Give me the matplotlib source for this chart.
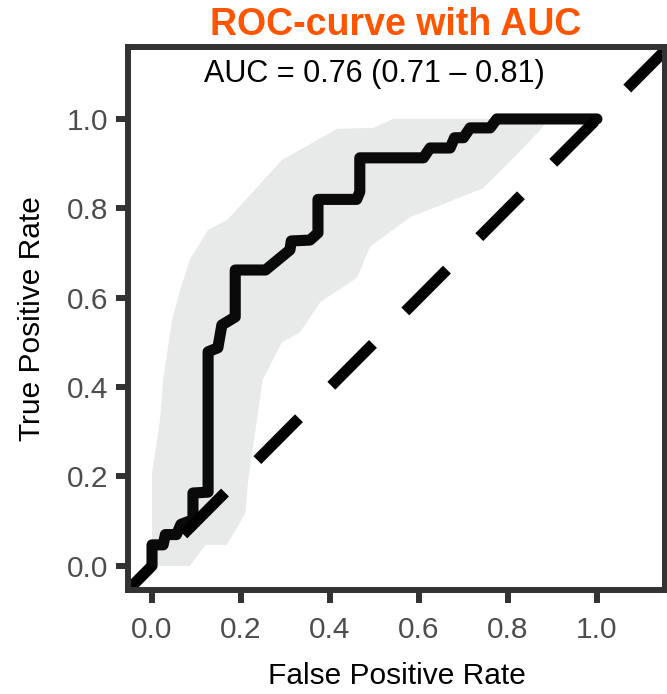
import numpy as np
import matplotlib.pyplot as plt
from matplotlib import font_manager

# ROC curve (FPR, TPR)
roc_fpr = [0.0, 0.0, 0.025, 0.03, 0.055, 0.065, 0.092, 0.092, 0.126, 0.126, 0.148, 0.157,
           0.187, 0.187, 0.255, 0.31, 0.313, 0.355, 0.373, 0.373, 0.46, 0.467, 0.467,
           0.61, 0.625, 0.67, 0.68, 0.70, 0.715, 0.76, 0.775, 1.0]
roc_tpr = [0.0, 0.047, 0.047, 0.07, 0.07, 0.093, 0.103, 0.163, 0.165, 0.479, 0.488, 0.539,
           0.557, 0.662, 0.662, 0.707, 0.727, 0.729, 0.745, 0.82, 0.82, 0.837, 0.913,
           0.913, 0.935, 0.935, 0.958, 0.958, 0.98, 0.98, 1.0, 1.0]

# confidence band edges
upper_fpr = [0.0, 0.0, 0.018, 0.025, 0.045, 0.063, 0.085, 0.126, 0.169, 0.292, 0.416, 0.497, 0.541, 0.885]
upper_tpr = [0.0, 0.208, 0.327, 0.416, 0.55, 0.617, 0.685, 0.752, 0.774, 0.908, 0.978, 0.98, 1.0, 1.0]
lower_fpr = [0.0, 0.085, 0.12, 0.168, 0.21, 0.216, 0.249, 0.292, 0.333, 0.378, 0.461, 0.49,
             0.58, 0.744, 0.80, 0.879, 0.885]
lower_tpr = [0.0, 0.0, 0.047, 0.047, 0.118, 0.19, 0.417, 0.5, 0.523, 0.59, 0.645, 0.714,
             0.78, 0.845, 0.90, 0.982, 1.0]

ticks = [0.0, 0.2, 0.4, 0.6, 0.8, 1.0]
tick_labels = ['0.0', '0.2', '0.4', '0.6', '0.8', '1.0']
auc_label = 'AUC = 0.76 (0.71 \u2013 0.81)'

names = {f.name for f in font_manager.fontManager.ttflist}
base_font = 'Liberation Sans' if 'Liberation Sans' in names else 'DejaVu Sans'
plt.rcParams['font.family'] = [base_font, 'DejaVu Sans']
plt.rcParams['lines.scale_dashes'] = False

fig = plt.figure(figsize=(6.67, 6.94), dpi=100)
ax = fig.add_axes([128 / 667, 1 - 590 / 694, (665 - 128) / 667, (590 - 47) / 694])

# band
band_x = np.r_[upper_fpr, lower_fpr[::-1]]
band_y = np.r_[upper_tpr, lower_tpr[::-1]]
ax.fill(band_x, band_y, color='#e8e9e9', lw=0, zorder=1)

# roc curve
ax.plot(roc_fpr, roc_tpr, color='#0a0a0a', lw=8, solid_joinstyle='round',
        solid_capstyle='round', zorder=2)

xlim = (-0.054, 1.153)
ylim = (-0.054, 1.161)

# chance line
ax.plot([xlim[0], 1.3], [xlim[0], 1.3], color='black', lw=8,
        linestyle=(19, (42.5, 33)), dash_capstyle='butt', zorder=3)

ax.text(0.5, 1.1, auc_label, ha='center', va='center', fontsize=22, color='black')

ax.set_xlim(xlim)
ax.set_ylim(ylim)
ax.set_xticks(ticks)
ax.set_xticklabels(tick_labels)
ax.set_yticks(ticks)
ax.set_yticklabels(tick_labels)

for sp in ax.spines.values():
    sp.set_color('#333333')
    sp.set_linewidth(4.3)
    sp.set_zorder(5)

ax.tick_params(axis='both', length=9, width=4.3, color='#333333', labelsize=21.5,
               labelcolor='#4d4d4d')
ax.tick_params(axis='x', pad=10)
ax.tick_params(axis='y', pad=5)
ax.set_xlabel('False Positive Rate', fontsize=21.5, labelpad=13)
ax.set_ylabel('True Positive Rate', fontsize=21.5, labelpad=15)

fig.text(396 / 667, 1 - 25 / 694, 'ROC-curve with AUC', ha='center', va='center',
         fontsize=27, fontweight='bold', color='#ff5500')

fig.savefig('out.png', dpi=100)
